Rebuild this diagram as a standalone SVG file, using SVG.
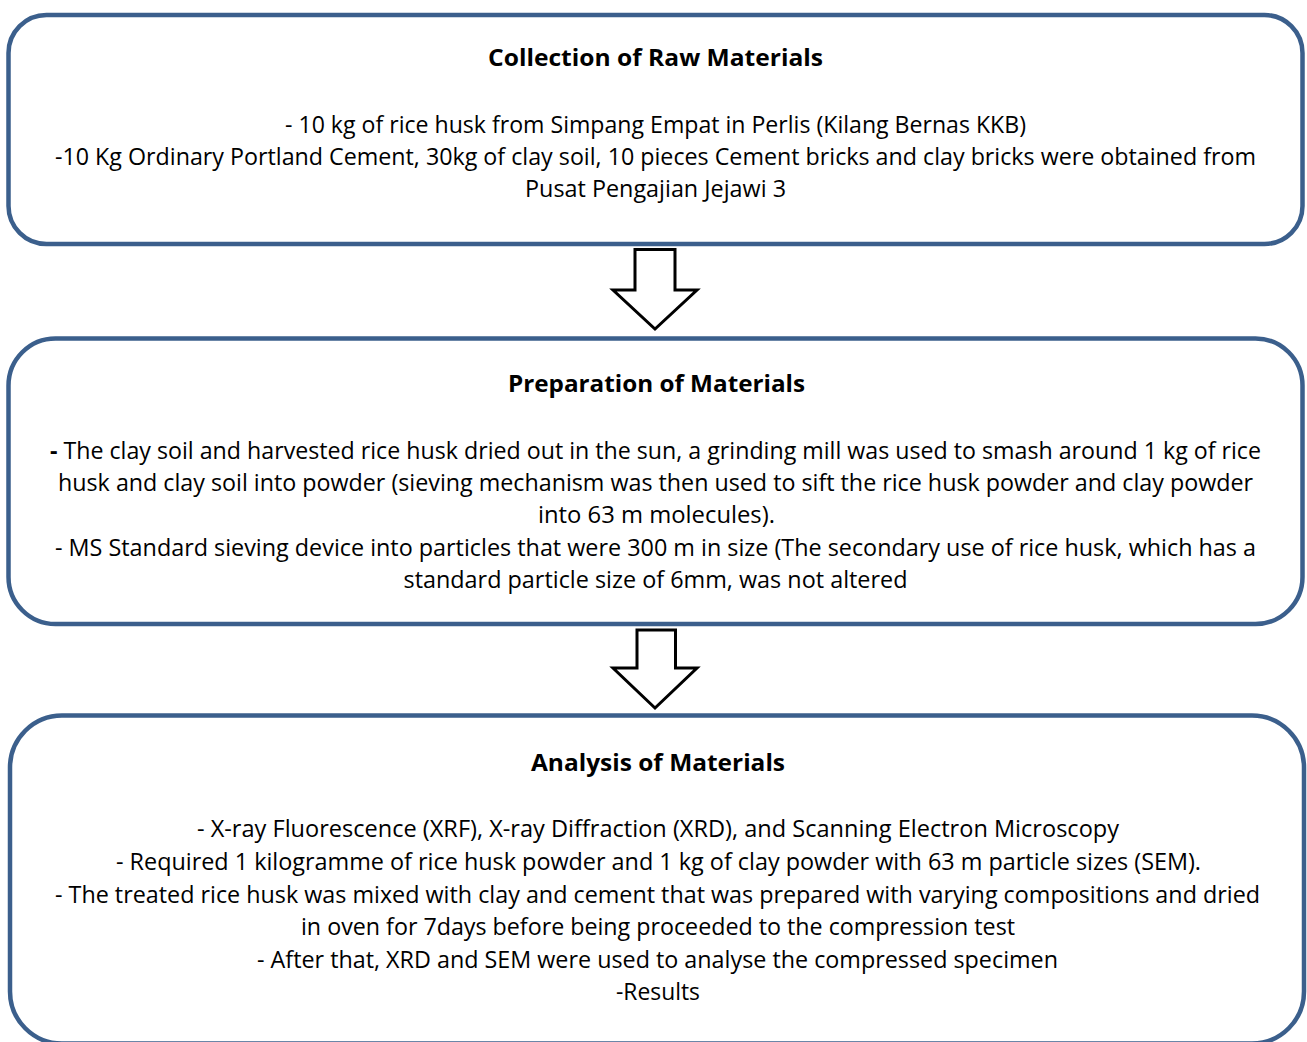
<svg xmlns="http://www.w3.org/2000/svg" width="1307" height="1042" viewBox="0 0 1307 1042">
<style>
.box{fill:#ffffff;stroke:#3b5f8c;stroke-width:4.5}
.arrow{fill:#ffffff;stroke:#000000;stroke-width:3;stroke-linejoin:miter;stroke-miterlimit:10}
text{font-family:"Open Sans","Liberation Sans",sans-serif;font-size:23px;fill:#000000;text-anchor:middle}
.title{font-weight:bold}
</style>
<rect width="1307" height="1042" fill="#ffffff"/>
<g id="node-collection">
<rect class="box" x="8.5" y="15" width="1294" height="229" rx="38" ry="38"/>
<text class="title" x="655.5" y="65.5" textLength="335" lengthAdjust="spacingAndGlyphs">Collection of Raw Materials</text>
<text x="655.5" y="132.5" textLength="741" lengthAdjust="spacingAndGlyphs">- 10 kg of rice husk from Simpang Empat in Perlis (Kilang Bernas KKB)</text>
<text x="655.5" y="165" textLength="1201" lengthAdjust="spacingAndGlyphs">-10 Kg Ordinary Portland Cement, 30kg of clay soil, 10 pieces Cement bricks and clay bricks were obtained from</text>
<text x="655.5" y="197" textLength="261" lengthAdjust="spacingAndGlyphs">Pusat Pengajian Jejawi 3</text>
</g>
<g id="node-preparation">
<rect class="box" x="8.5" y="338.5" width="1294" height="285.5" rx="47" ry="47"/>
<text class="title" x="656.5" y="392" textLength="297" lengthAdjust="spacingAndGlyphs">Preparation of Materials</text>
<text x="655.5" y="458.5" textLength="1211" lengthAdjust="spacingAndGlyphs"><tspan font-weight="bold">-</tspan> The clay soil and harvested rice husk dried out in the sun, a grinding mill was used to smash around 1 kg of rice</text>
<text x="655.5" y="491" textLength="1195" lengthAdjust="spacingAndGlyphs">husk and clay soil into powder (sieving mechanism was then used to sift the rice husk powder and clay powder</text>
<text x="656.5" y="523" textLength="237" lengthAdjust="spacingAndGlyphs">into 63 m molecules).</text>
<text x="655.5" y="556" textLength="1201" lengthAdjust="spacingAndGlyphs">- MS Standard sieving device into particles that were 300 m in size (The secondary use of rice husk, which has a</text>
<text x="655.5" y="588" textLength="504" lengthAdjust="spacingAndGlyphs">standard particle size of 6mm, was not altered</text>
</g>
<g id="node-analysis">
<rect class="box" x="10" y="715.5" width="1294" height="328" rx="52" ry="52"/>
<text class="title" x="658" y="771" textLength="254" lengthAdjust="spacingAndGlyphs">Analysis of Materials</text>
<text x="658" y="837" textLength="922" lengthAdjust="spacingAndGlyphs">- X-ray Fluorescence (XRF), X-ray Diffraction (XRD), and Scanning Electron Microscopy</text>
<text x="658.5" y="869.5" textLength="1085" lengthAdjust="spacingAndGlyphs">- Required 1 kilogramme of rice husk powder and 1 kg of clay powder with 63 m particle sizes (SEM).</text>
<text x="657.5" y="902.5" textLength="1205" lengthAdjust="spacingAndGlyphs">- The treated rice husk was mixed with clay and cement that was prepared with varying compositions and dried</text>
<text x="658" y="935" textLength="714" lengthAdjust="spacingAndGlyphs">in oven for 7days before being proceeded to the compression test</text>
<text x="657.5" y="967.5" textLength="801" lengthAdjust="spacingAndGlyphs">- After that, XRD and SEM were used to analyse the compressed specimen</text>
<text x="658" y="1000" textLength="84" lengthAdjust="spacingAndGlyphs">-Results</text>
</g>
<g id="connectors">
<polygon id="arrow-1" class="arrow" points="635,249.5 675,249.5 675,290 697,290 655,329 613,290 635,290"/>
<polygon id="arrow-2" class="arrow" points="637,630 675.5,630 675.5,668 697,668 655,708 613,668 637,668"/>
</g>
</svg>
